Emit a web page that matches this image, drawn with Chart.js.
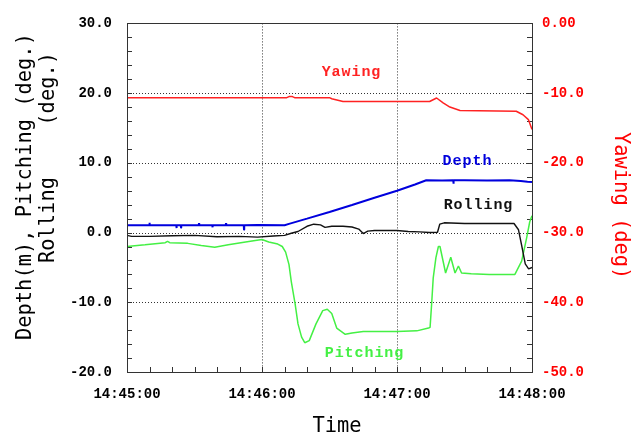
<!DOCTYPE html>
<html><head><meta charset="utf-8">
<script src="https://cdn.jsdelivr.net/npm/chart.js@4/dist/chart.umd.min.js"></script>
<style>html,body{margin:0;padding:0;background:#fff}#wrap{width:641px;height:439px}</style>
</head><body><div id="wrap"><canvas id="c" width="641" height="439"></canvas></div>
<script>
// ---- data (time in seconds after 14:45:00) ----
const xTickLabels = ['14:45:00', '14:46:00', '14:47:00', '14:48:00'];

const yawT = [0, 71, 72, 73.5, 74.5, 90, 91, 96, 134.5, 137.6, 140.5, 143.5, 148, 173, 176, 178.4, 180];
const yawV = [-10.65, -10.65, -10.5, -10.5, -10.65, -10.65, -10.8, -11.2, -11.2, -10.7, -11.4, -12.0, -12.5, -12.6, -13.1, -13.8, -15.2];

const depthT = [0, 9.9, 10, 10.1, 21.9, 22, 22.1, 23.9, 24, 24.1, 31.9, 32, 32.1, 37.9, 38, 38.1, 43.9, 44, 44.1, 51.9, 52, 52.1, 58, 70, 72, 80, 90, 100, 110, 120, 128, 133, 140, 145, 145.1, 145.2, 150, 160, 170, 175, 178, 180];
const depthV = [1.05, 1.05, 1.4, 1.05, 1.05, 0.65, 1.05, 1.05, 0.7, 1.05, 1.05, 1.35, 1.05, 1.05, 0.75, 1.05, 1.05, 1.35, 1.05, 1.05, 0.4, 1.05, 1.1, 1.05, 1.25, 2.0, 2.95, 3.95, 5.0, 6.0, 6.9, 7.5, 7.45, 7.5, 7.0, 7.5, 7.5, 7.45, 7.5, 7.4, 7.3, 7.25];

const rollT = [0, 2, 10, 20, 30, 40, 50, 58, 65, 70, 73, 76, 80, 83, 86, 88, 91, 96, 100, 103, 105, 107, 110, 120, 125, 130, 134.5, 138, 139, 141, 150, 160, 172, 174, 175.5, 177, 178.5, 180];
const rollV = [-0.4, -0.55, -0.55, -0.45, -0.4, -0.6, -0.55, -0.65, -0.5, -0.4, -0.1, 0.15, 0.9, 1.2, 1.1, 0.75, 0.9, 0.9, 0.8, 0.5, -0.15, 0.2, 0.3, 0.3, 0.15, 0.1, 0.0, 0.05, 1.2, 1.4, 1.3, 1.3, 1.3, 0.4, -2.0, -4.5, -5.2, -5.0];

const pitchT = [0, 8, 17, 18, 19, 27, 33, 39, 45, 52, 57, 60, 63, 67, 69, 70.5, 72, 73, 74.7, 76, 77.6, 79, 81, 84, 87, 89, 91, 93.2, 97, 100, 105, 120, 128.8, 134, 134.7, 135.4, 136.1, 137.3, 138.4, 139.1, 141.6, 143.9, 145.8, 147.3, 148.7, 153, 161, 172.4, 175.4, 177.6, 179, 180];
const pitchV = [-2.0, -1.75, -1.45, -1.25, -1.45, -1.55, -1.85, -2.1, -1.75, -1.4, -1.15, -1.0, -1.35, -1.65, -2.0, -2.8, -4.6, -7.0, -10.2, -13.1, -15.0, -15.8, -15.5, -13.1, -11.2, -11.0, -11.6, -13.7, -14.6, -14.4, -14.2, -14.2, -14.1, -13.7, -13.6, -10.2, -6.5, -3.6, -2.0, -2.0, -5.8, -3.55, -5.8, -4.8, -5.8, -5.9, -6.0, -6.0, -4.1, -0.8, 1.55, 2.4];

const seriesLabels = ['Yawing', 'Depth', 'Rolling', 'Pitching'];
const seriesColors = ['#ff2222', '#0000dd', '#111111', '#44f044'];

const pts = (T, V) => T.map((t, i) => ({ x: t, y: V[i] }));

const tickFont = { family: 'Liberation Mono', weight: 'bold', size: 14 };
const titleFont = '20.4px "DejaVu Sans Mono"';

const decor = {
  id: 'decor',
  beforeDatasetsDraw(chart) {
    const { ctx, chartArea: a, scales: { x, y } } = chart;
    ctx.save();
    ctx.strokeStyle = '#333';
    ctx.lineWidth = 1;
    ctx.setLineDash([1, 2]);
    ctx.beginPath();
    for (let t = 60; t < 180; t += 60) {
      const px = Math.round(x.getPixelForValue(t)) + 0.5;
      ctx.moveTo(px, a.top); ctx.lineTo(px, a.bottom);
    }
    for (let v = -10; v < 30; v += 10) {
      const py = Math.round(y.getPixelForValue(v)) + 0.5;
      ctx.moveTo(a.left, py); ctx.lineTo(a.right, py);
    }
    ctx.stroke();
    ctx.setLineDash([]);
    ctx.beginPath();
    for (let v = -20; v <= 30; v += 2) {
      const py = Math.round(y.getPixelForValue(v)) + 0.5;
      ctx.moveTo(a.left, py); ctx.lineTo(a.left + 5, py);
      ctx.moveTo(a.right, py); ctx.lineTo(a.right - 5, py);
    }
    for (let t = 0; t <= 180; t += 10) {
      const px = Math.round(x.getPixelForValue(t)) + 0.5;
      ctx.moveTo(px, a.bottom); ctx.lineTo(px, a.bottom - 5);
    }
    ctx.stroke();
    ctx.restore();
  },
  afterDatasetsDraw(chart) {
    const { ctx, chartArea: a } = chart;
    ctx.save();
    ctx.strokeStyle = '#333';
    ctx.lineWidth = 1;
    ctx.strokeRect(Math.round(a.left) + 0.5, Math.round(a.top) + 0.5, Math.round(a.right - a.left), Math.round(a.bottom - a.top));
    // in-plot series labels
    ctx.font = 'bold 15px "Liberation Mono"';
    ctx.textAlign = 'center';
    ctx.textBaseline = 'middle';
    const lp = [[351, 72], [467, 161], [478, 205], [364, 353]];
    seriesLabels.forEach((s, i) => {
      ctx.fillStyle = seriesColors[i];
      ctx.fillText(s.split('').join(String.fromCharCode(8202)), lp[i][0], lp[i][1]);
    });
    // axis titles
    ctx.fillStyle = '#000';
    ctx.font = titleFont;
    ctx.textBaseline = 'alphabetic';
    ctx.save();
    ctx.translate(31, 340);
    ctx.rotate(-Math.PI / 2);
    ctx.textAlign = 'left';
    ctx.fillText('Depth(m), Pitching (deg.)', 0, 0);
    ctx.restore();
    ctx.save();
    ctx.translate(54, 263);
    ctx.rotate(-Math.PI / 2);
    ctx.textAlign = 'left';
    ctx.fillText('Rolling', 0, 0);
    ctx.textAlign = 'right';
    ctx.fillText('(deg.)', 211, 0);
    ctx.restore();
    ctx.save();
    ctx.fillStyle = '#ff0000';
    ctx.translate(615, 132);
    ctx.rotate(Math.PI / 2);
    ctx.textAlign = 'left';
    ctx.fillText('Yawing (deg)', 0, 0);
    ctx.restore();
    ctx.textAlign = 'center';
    ctx.textBaseline = 'middle';
    ctx.fillText('Time', 337, 427);
    ctx.restore();
  }
};

new Chart(document.getElementById('c'), {
  type: 'line',
  data: {
    datasets: [
      { label: seriesLabels[0], data: pts(yawT, yawV), yAxisID: 'y2', borderColor: seriesColors[0], borderWidth: 1.5 },
      { label: seriesLabels[1], data: pts(depthT, depthV), yAxisID: 'y', borderColor: seriesColors[1], borderWidth: 2 },
      { label: seriesLabels[2], data: pts(rollT, rollV), yAxisID: 'y', borderColor: seriesColors[2], borderWidth: 1.4 },
      { label: seriesLabels[3], data: pts(pitchT, pitchV), yAxisID: 'y', borderColor: seriesColors[3], borderWidth: 1.5 }
    ]
  },
  options: {
    responsive: false,
    animation: false,
    devicePixelRatio: 1,
    layout: { padding: { top: 19, left: 0, right: 0, bottom: 0 } },
    elements: { point: { radius: 0 }, line: { tension: 0, borderJoinStyle: 'bevel' } },
    plugins: { legend: { display: false }, tooltip: { enabled: false } },
    scales: {
      x: {
        type: 'linear', min: 0, max: 180,
        afterFit: s => { s.height = 67; },
        afterBuildTicks: s => { s.ticks = [0, 60, 120, 180].map(v => ({ value: v })); },
        ticks: { color: '#000', font: tickFont, padding: 14, maxRotation: 0, autoSkip: false,
          callback: (v, i) => xTickLabels[i] },
        grid: { display: false, drawTicks: false }, border: { display: false }
      },
      y: {
        position: 'left', min: -20, max: 30,
        afterFit: s => { s.width = 127; },
        ticks: { stepSize: 10, color: '#000', font: tickFont, padding: 15, callback: v => v.toFixed(1) },
        grid: { display: false, drawTicks: false }, border: { display: false }
      },
      y2: {
        position: 'right', min: -50, max: 0,
        afterFit: s => { s.width = 109; },
        ticks: { stepSize: 10, color: '#ff0000', font: tickFont, padding: 10, callback: v => v === 0 ? '0.00' : v.toFixed(1) },
        grid: { display: false, drawTicks: false }, border: { display: false }
      }
    }
  },
  plugins: [decor]
});
</script>
</body></html>
